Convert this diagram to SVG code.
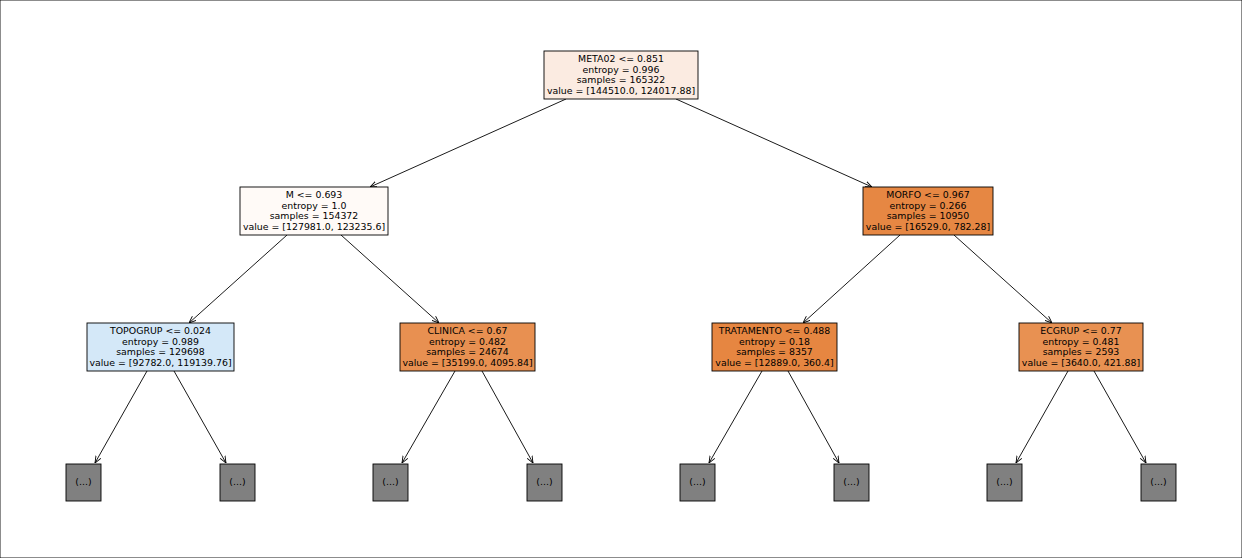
<svg xmlns="http://www.w3.org/2000/svg" width="1242" height="558" viewBox="0 0 1242 558">
<style>
text{font-family:"DejaVu Sans",sans-serif;font-size:9.4px;text-anchor:middle;fill:#000}
rect{stroke:#000;stroke-width:0.9}
.e line{stroke:#000;stroke-width:0.9;marker-end:url(#a)}
.leaf{fill:#808080}
</style>
<defs><marker id="a" viewBox="0 0 10 10" refX="10" refY="5" markerWidth="7" markerHeight="7" markerUnits="userSpaceOnUse" orient="auto"><path d="M0,1 L10,5 L0,9" fill="none" stroke="#000" stroke-width="1.3"/></marker></defs>
<rect width="1242" height="558" fill="#fff" stroke="none"/>
<g class="e">
<line x1="566" y1="99" x2="370" y2="187"/><line x1="676" y1="99" x2="872" y2="187"/>
<line x1="287" y1="235" x2="189" y2="323"/><line x1="341" y1="235" x2="439" y2="323"/>
<line x1="900" y1="235" x2="803" y2="323"/><line x1="954" y1="235" x2="1052" y2="323"/>
<line x1="147" y1="371" x2="95" y2="463"/><line x1="174" y1="371" x2="226" y2="463"/>
<line x1="455" y1="371" x2="402" y2="463"/><line x1="482" y1="371" x2="533" y2="463"/>
<line x1="762" y1="371" x2="709" y2="463"/><line x1="788" y1="371" x2="839" y2="463"/>
<line x1="1068" y1="371" x2="1016" y2="463"/><line x1="1094" y1="371" x2="1146" y2="463"/>
</g>
<g id="n0"><rect x="544" y="51" width="154" height="48" fill="#fbebe1"/><text x="621" y="62">META02 &lt;= 0.851</text><text x="621" y="72.5">entropy = 0.996</text><text x="621" y="83">samples = 165322</text><text x="621" y="93.5">value = [144510.0, 124017.88]</text></g>
<g id="n1"><rect x="240" y="187" width="148" height="48" fill="#fffaf7"/><text x="314" y="198">M &lt;= 0.693</text><text x="314" y="208.5">entropy = 1.0</text><text x="314" y="219">samples = 154372</text><text x="314" y="229.5">value = [127981.0, 123235.6]</text></g>
<g id="n2"><rect x="863" y="187" width="130" height="48" fill="#e68743"/><text x="928" y="198">MORFO &lt;= 0.967</text><text x="928" y="208.5">entropy = 0.266</text><text x="928" y="219">samples = 10950</text><text x="928" y="229.5">value = [16529.0, 782.28]</text></g>
<g id="n3"><rect x="87" y="323" width="147" height="48" fill="#d4e8f8"/><text x="160.5" y="334">TOPOGRUP &lt;= 0.024</text><text x="160.5" y="344.5">entropy = 0.989</text><text x="160.5" y="355">samples = 129698</text><text x="160.5" y="365.5">value = [92782.0, 119139.76]</text></g>
<g id="n4"><rect x="400" y="323" width="135" height="48" fill="#e89051"/><text x="467.5" y="334">CLINICA &lt;= 0.67</text><text x="467.5" y="344.5">entropy = 0.482</text><text x="467.5" y="355">samples = 24674</text><text x="467.5" y="365.5">value = [35199.0, 4095.84]</text></g>
<g id="n5"><rect x="712" y="323" width="125" height="48" fill="#e68641"/><text x="774.5" y="334">TRATAMENTO &lt;= 0.488</text><text x="774.5" y="344.5">entropy = 0.18</text><text x="774.5" y="355">samples = 8357</text><text x="774.5" y="365.5">value = [12889.0, 360.4]</text></g>
<g id="n6"><rect x="1019" y="323" width="124" height="48" fill="#e89152"/><text x="1081" y="334">ECGRUP &lt;= 0.77</text><text x="1081" y="344.5">entropy = 0.481</text><text x="1081" y="355">samples = 2593</text><text x="1081" y="365.5">value = [3640.0, 421.88]</text></g>
<g id="l1"><rect class="leaf" x="66" y="464" width="35" height="37"/><text x="83.5" y="485">(...)</text></g>
<g id="l2"><rect class="leaf" x="220" y="464" width="35" height="37"/><text x="237.5" y="485">(...)</text></g>
<g id="l3"><rect class="leaf" x="373" y="464" width="35" height="37"/><text x="390.5" y="485">(...)</text></g>
<g id="l4"><rect class="leaf" x="527" y="464" width="35" height="37"/><text x="544.5" y="485">(...)</text></g>
<g id="l5"><rect class="leaf" x="680" y="464" width="35" height="37"/><text x="697.5" y="485">(...)</text></g>
<g id="l6"><rect class="leaf" x="834" y="464" width="35" height="37"/><text x="851.5" y="485">(...)</text></g>
<g id="l7"><rect class="leaf" x="987" y="464" width="35" height="37"/><text x="1004.5" y="485">(...)</text></g>
<g id="l8"><rect class="leaf" x="1141" y="464" width="35" height="37"/><text x="1158.5" y="485">(...)</text></g>
</svg>
